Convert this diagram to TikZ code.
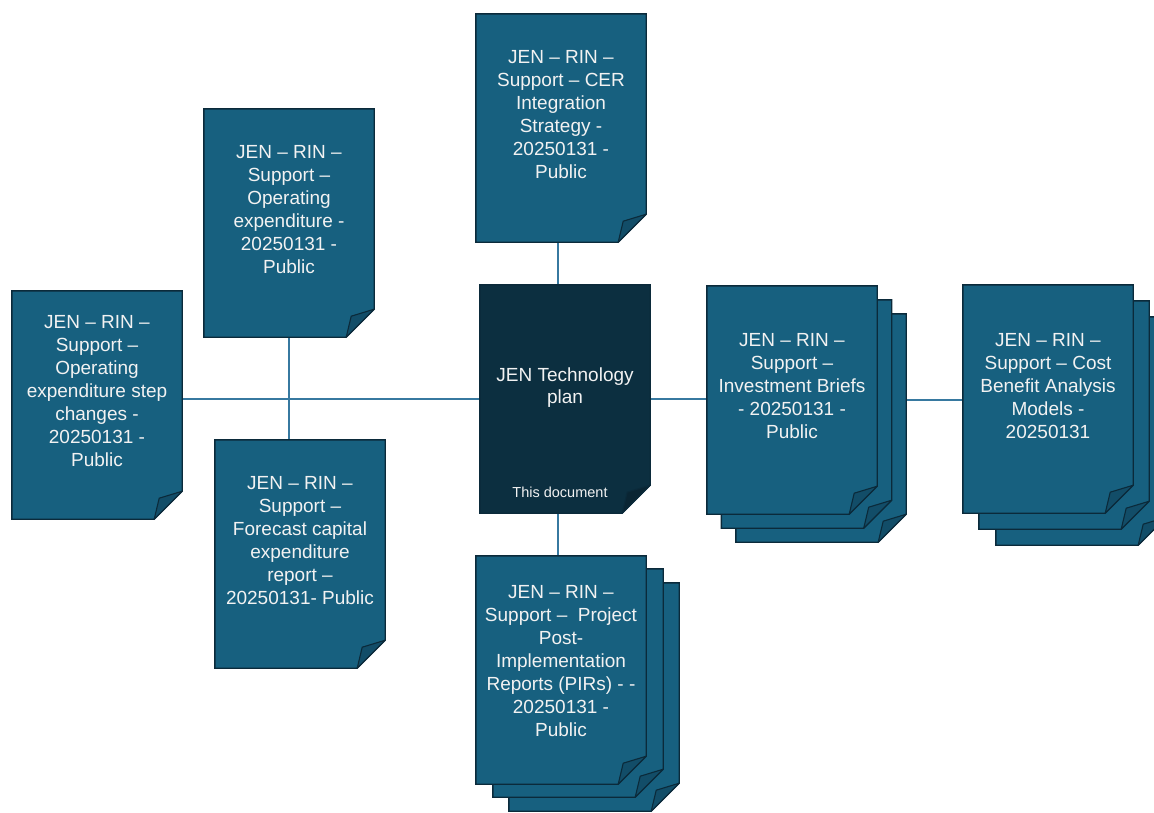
\documentclass[tikz,border=0pt]{standalone}
\usepackage{fontspec}
\setmainfont{Liberation Sans}
\definecolor{pagefill}{HTML}{17607F}
\definecolor{pageflap}{HTML}{124D68}
\definecolor{mainfill}{HTML}{0C2F40}
\definecolor{mainflap}{HTML}{0A2533}
\definecolor{pageedge}{HTML}{0B2A3A}
\definecolor{linkcol}{HTML}{3779A0}
\definecolor{txtcol}{HTML}{F2F2F2}
\newcommand\mydocpage[3]{%
  \path[fill=#2,draw=pageedge,line width=1.4pt,line join=miter]
    (#1.north west) -- (#1.north east) -- ([yshift=28pt]#1.south east)
    -- ([xshift=-28pt]#1.south east) -- (#1.south west) -- cycle;
  \path[fill=#3,draw=pageedge,line width=1.1pt,line join=round]
    ([xshift=-28pt]#1.south east) -- ([xshift=-23pt,yshift=21pt]#1.south east)
    -- ([yshift=28pt]#1.south east) -- cycle;
}
\tikzset{
  pagebox/.style={rectangle,inner sep=0pt,minimum width=170pt,minimum height=228pt,draw=none},
  pagetext/.style={align=center,text=txtcol,inner sep=0pt,font=\fontsize{19}{23}\selectfont},
  smalltext/.style={text=txtcol,inner sep=0pt,font=\fontsize{14.5}{17}\selectfont},
  link/.style={draw=linkcol,line width=1.5pt}
}
\begin{document}
\begin{tikzpicture}[x=1pt,y=-1pt]
\useasboundingbox (0,0) rectangle (1154,812);
\clip (0,0) rectangle (1154,812);
% geometry of the pages
\node[pagebox] (cer) at (561,128) {};
\node[pagebox] (opex) at (289,223) {};
\node[pagebox] (step) at (97,405) {};
\node[pagebox] (fcst) at (300,554) {};
\node[pagebox] (main) at (565,399) {};
\node[pagebox] (pir3) at (594,697) {};
\node[pagebox] (pir2) at (578,683) {};
\node[pagebox] (pir) at (561,670) {};
\node[pagebox] (inv3) at (821,428) {};
\node[pagebox] (inv2) at (806.5,414) {};
\node[pagebox] (inv) at (792,400) {};
\node[pagebox] (cba3) at (1081,431) {};
\node[pagebox] (cba2) at (1064,415) {};
\node[pagebox] (cba) at (1048,399) {};
% connectors
\draw[link] ([xshift=-3pt]cer.south) -- ([xshift=-3pt]cer.south |- main.north);
\draw[link] ([xshift=-7pt]main.south) -- ([xshift=-7pt]main.south |- pir.north);
\draw[link] (main.west) -- (main.west -| step.east);
\draw[link] (opex.south) -- (opex.south |- fcst.north);
\draw[link] (main.east) -- (main.east -| inv.west);
\draw[link] (inv3.east |- inv.west) -- (inv.west -| cba.west);
% pages
\mydocpage{cer}{pagefill}{pageflap}
\mydocpage{opex}{pagefill}{pageflap}
\mydocpage{step}{pagefill}{pageflap}
\mydocpage{fcst}{pagefill}{pageflap}
\mydocpage{main}{mainfill}{mainflap}
\mydocpage{pir3}{pagefill}{pageflap}
\mydocpage{pir2}{pagefill}{pageflap}
\mydocpage{pir}{pagefill}{pageflap}
\mydocpage{inv3}{pagefill}{pageflap}
\mydocpage{inv2}{pagefill}{pageflap}
\mydocpage{inv}{pagefill}{pageflap}
\mydocpage{cba3}{pagefill}{pageflap}
\mydocpage{cba2}{pagefill}{pageflap}
\mydocpage{cba}{pagefill}{pageflap}
% texts
\node[pagetext] (cert) at ([yshift=13.5pt]cer.center) {JEN – RIN –\\Support – CER\\Integration\\Strategy -\\20250131 -\\Public};
\node[pagetext] (opext) at ([yshift=13.5pt]opex.center) {JEN – RIN –\\Support –\\Operating\\expenditure -\\20250131 -\\Public};
\node[pagetext] (stept) at ([yshift=13.5pt]step.center) {JEN – RIN –\\Support –\\Operating\\expenditure step\\changes -\\20250131 -\\Public};
\node[pagetext] (fcstt) at ([yshift=13.5pt]fcst.center) {JEN – RIN –\\Support –\\Forecast capital\\expenditure\\report –\\20250131- Public};
\node[pagetext,font=\fontsize{19}{22}\selectfont] (maint) at ([yshift=11pt]main.center) {JEN Technology\\plan};
\node[smalltext] (mainsub) at ([xshift=-5pt,yshift=-93pt]main.center) {This document};
\node[pagetext] (pirt) at ([yshift=9pt]pir.center) {JEN – RIN –\\Support –~ Project\\Post-\\Implementation\\Reports (PIRs) - -\\20250131 -\\Public};
\node[pagetext] (invt) at ([yshift=14pt]inv.center) {JEN – RIN –\\Support –\\Investment Briefs\\- 20250131 -\\Public};
\node[pagetext] (cbat) at ([yshift=13pt]cba.center) {JEN – RIN –\\Support – Cost\\Benefit Analysis\\Models -\\20250131};
\end{tikzpicture}
\end{document}
